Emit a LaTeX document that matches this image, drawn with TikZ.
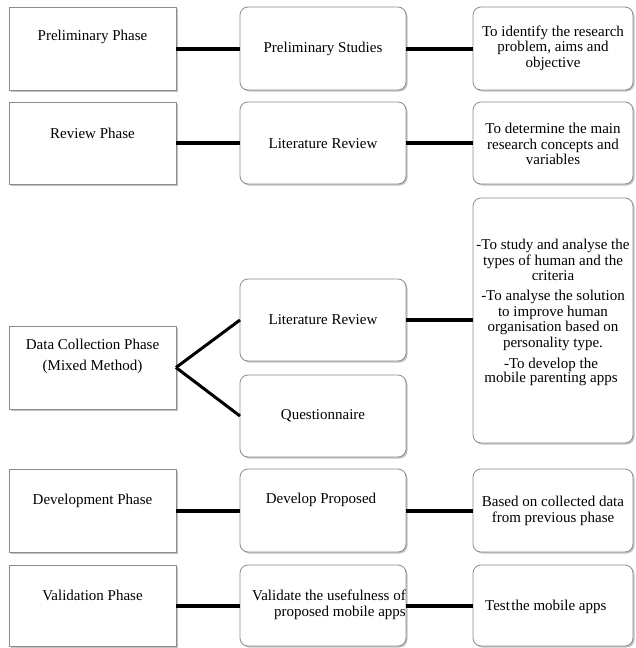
\documentclass[tikz,border=0pt]{standalone}
\usepackage{fontspec}
\setmainfont{Liberation Serif}
\usetikzlibrary{shadows}
\begin{document}
\begin{tikzpicture}[x=1pt,y=-1pt,
  box/.style={draw=black!45, line width=0.8pt, fill=white, inner sep=0pt, outer sep=0pt,
    drop shadow={shadow xshift=1.5pt, shadow yshift=-1.5pt, fill=black!40, opacity=0.6}},
  sqbox/.style={box, minimum width=167pt},
  midbox/.style={box, rounded corners=8pt, minimum width=166pt},
  rbox/.style={box, rounded corners=8pt, minimum width=160pt},
  txt/.style={font=\fontsize{15}{15.5}\selectfont, inner sep=0pt, align=center},
  link/.style={line width=4pt, black},
  diag/.style={line width=3pt, black}]
\useasboundingbox (0,0) rectangle (635,648);

% left column
\node[sqbox, minimum height=83pt] (L1) at (92.5,48.5) {};
\node[sqbox, minimum height=82pt] (L2) at (92.5,143) {};
\node[sqbox, minimum height=83pt] (L3) at (92.5,367.5) {};
\node[sqbox, minimum height=83pt] (L4) at (92.5,510.5) {};
\node[sqbox, minimum height=81pt] (L5) at (92.5,605.5) {};

% middle column
\node[midbox, minimum height=83pt] (M1) at (323,48.5) {};
\node[midbox, minimum height=82pt] (M2) at (323,143) {};
\node[midbox, minimum height=82pt] (M3) at (323,320) {};
\node[midbox, minimum height=82pt] (M4) at (323,416) {};
\node[midbox, minimum height=83pt] (M5) at (323,510.5) {};
\node[midbox, minimum height=81pt] (M6) at (323,605.5) {};

% right column
\node[rbox, minimum height=83pt] (R1) at (553,48.5) {};
\node[rbox, minimum height=82pt] (R2) at (553,143) {};
\node[rbox, minimum height=245pt] (R3) at (553,320.5) {};
\node[rbox, minimum height=83pt] (R4) at (553,510.5) {};
\node[rbox, minimum height=81pt] (R5) at (553,605.5) {};

% texts left
\node[txt] (tL1) at (92.5,37) {Preliminary Phase};
\node[txt] (tL2) at (92.5,133) {Review Phase};
\node[txt, font=\fontsize{15}{21}\selectfont] (tL3) at (92.5,356) {Data Collection Phase\\(Mixed Method)};
\node[txt] (tL4) at (92.5,501) {Development Phase};
\node[txt] (tL5) at (92.5,595) {Validation Phase};

% texts middle
\node[txt] (tM1) at (323,49) {Preliminary Studies};
\node[txt] (tM2) at (323,144) {Literature Review};
\node[txt] (tM3) at (323,320) {Literature Review};
\node[txt] (tM4) at (323,416) {Questionnaire};
\node[txt] (tM5) at (321,500) {Develop Proposed};
\node[txt, align=right, anchor=east] (tM6) at (406,605) {Validate the usefulness of\\proposed mobile apps};

% texts right
\node[txt] (tR1) at (553,48) {To identify the research\\problem, aims and\\objective};
\node[txt] (tR2) at (553,144) {To determine the main\\research concepts and\\variables};
\node[txt] (tR3a) at (553,260) {-To study and analyse the\\types of human and the\\criteria};
\node[txt] (tR3b) at (553,320.5) {-To analyse the solution\\to improve human\\organisation based on\\personality type.};
\node[txt, font=\fontsize{15}{12.5}\selectfont] (tR3c) at (551,372) {-To develop the\\mobile parenting apps};
\node[txt] (tR4) at (553,511) {Based on collected data\\from previous phase};
\node[txt, anchor=west] (tR5) at (485,607) {Test\hspace{1.5pt}the mobile apps};

% connectors
\draw[link] (L1) -- (M1);
\draw[link] (M1) -- (R1);
\draw[link] (L2) -- (M2);
\draw[link] (M2) -- (R2);
\draw[diag] (L3.east) -- (M3.west);
\draw[diag] (L3.east) -- (M4.west);
\draw[link] (M3) -- (R3.west |- M3);
\draw[link] (L4) -- (M5);
\draw[link] (M5) -- (R4);
\draw[link] (L5) -- (M6);
\draw[link] (M6) -- (R5);
\end{tikzpicture}
\end{document}
